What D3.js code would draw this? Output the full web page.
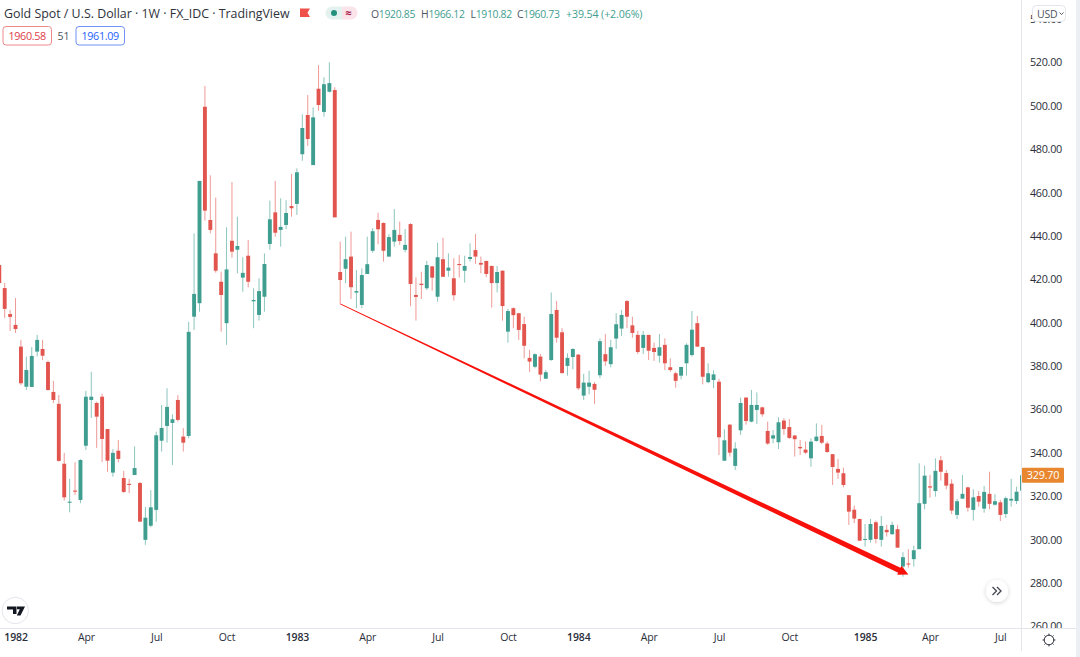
<!DOCTYPE html>
<html><head><meta charset="utf-8">
<style>
html,body{margin:0;padding:0;background:#fff;overflow:hidden}
svg{display:block}
text{font-family:"Open Sans","Noto Sans",sans-serif}
</style>
<script src="https://cdn.jsdelivr.net/npm/d3@7/dist/d3.min.js"></script>
</head><body>
<svg id="c" width="1080" height="657"></svg>
<script>
// Weekly candles, index 0 is the first whole candle on the left; the first entry is index -1.
const firstIndex = -1;
const highs=[426.6,418.3,405.9,411.4,392.1,384.4,388.8,394.4,392.1,382.5,373.2,366.7,340.0,328.0,335.7,337.1,368.6,377.4,363.6,367.2,351.0,341.7,345.9,331.7,328.0,343.0,326.6,315.1,322.8,349.8,362.1,369.8,357.8,366.6,351.4,400.4,441.2,465.4,509.2,468.0,457.7,423.5,444.0,464.9,448.9,430.2,438.2,415.9,420.5,432.0,456.3,465.4,457.4,456.5,468.6,471.2,496.1,505.0,499.3,518.8,513.2,520.1,508.6,437.4,439.7,442.0,424.3,425.1,439.7,443.6,450.7,446.3,440.8,452.4,446.6,443.2,445.9,420.9,423.5,428.5,426.2,436.9,439.2,432.0,429.7,431.2,430.9,436.6,440.9,430.5,428.6,426.3,426.2,424.2,406.4,407.1,404.4,402.8,387.5,385.9,385.6,378.2,414.0,410.0,397.5,385.9,388.2,385.6,376.4,377.9,372.6,392.8,394.8,392.1,404.4,405.9,410.5,402.8,396.3,396.2,394.4,390.8,394.8,392.8,383.6,377.4,379.7,390.5,405.4,403.1,389.0,381.3,378.1,374.1,350.9,353.3,344.9,365.5,365.6,369.0,367.9,361.3,354.4,350.6,356.4,356.0,355.6,348.3,346.0,345.2,346.7,353.6,352.9,345.2,339.5,337.2,333.2,320.6,315.7,309.7,307.2,309.5,308.8,310.9,306.8,308.3,306.8,294.2,295.6,297.2,335.2,334.1,329.8,337.5,338.6,332.1,327.8,318.8,329.8,324.4,323.2,322.4,324.8,331.3,320.9,318.3,319.8,328.0,324.4,329.8];
const bodyTops=[426.6,416.0,404.0,399.0,389.0,378.2,384.7,392.1,387.9,381.9,368.1,362.6,335.0,317.5,322.6,336.7,365.9,365.9,363.0,365.9,351.0,340.0,341.0,328.4,325.7,333.0,326.1,310.1,314.9,348.1,351.5,361.2,355.5,364.4,347.5,395.8,413.3,465.4,499.6,447.4,432.0,418.9,424.6,437.8,435.4,423.0,430.9,410.5,414.6,427.1,447.7,450.9,444.2,450.6,453.8,469.4,489.8,495.8,494.7,507.9,510.0,510.5,507.3,423.4,429.3,430.5,414.6,422.0,427.0,442.2,447.4,446.0,439.5,442.8,440.5,435.9,445.5,412.8,418.0,426.6,426.0,430.2,429.3,425.4,420.5,427.1,426.2,430.3,433.5,427.6,428.5,426.2,423.4,424.0,405.4,406.7,404.4,399.4,383.8,385.5,384.4,377.2,404.0,405.9,395.6,383.8,387.9,385.3,372.4,372.4,371.8,391.5,385.5,388.7,399.3,403.6,410.0,398.8,394.4,394.4,394.4,388.4,388.7,389.8,379.5,376.7,379.6,389.8,396.8,399.8,388.8,376.7,376.2,372.8,345.8,353.0,342.0,363.0,365.5,362.1,362.1,361.0,350.1,348.1,354.1,354.9,351.9,348.0,342.7,341.5,345.2,347.5,347.8,344.3,339.4,332.6,330.6,320.5,313.8,309.5,300.3,307.2,308.0,306.3,304.5,306.8,304.8,291.9,289.0,295.1,316.8,329.5,324.6,331.7,336.6,330.7,325.8,317.7,321.1,324.1,319.5,320.1,322.0,321.1,317.7,317.2,319.1,318.8,322.1,329.7];
const bodyBottoms=[418.3,406.4,402.7,397.1,372.1,370.5,370.4,386.7,384.8,369.0,364.4,336.3,319.5,317.0,322.1,318.3,343.3,364.4,356.7,346.4,336.4,330.9,337.2,322.0,325.2,329.8,308.3,299.9,306.4,313.7,345.6,352.4,353.8,355.2,344.7,347.8,402.8,409.0,451.7,442.8,424.0,412.8,399.8,432.8,433.7,420.8,418.9,409.9,403.6,412.0,436.3,441.5,442.8,445.1,452.8,454.8,477.7,484.7,472.7,500.4,497.2,506.5,448.6,419.7,424.9,416.4,413.9,408.2,422.5,433.2,443.1,433.2,430.5,437.4,437.7,433.6,417.9,411.9,417.4,415.9,420.8,412.0,421.2,424.0,412.7,426.6,424.0,429.4,430.5,426.8,422.5,418.3,418.3,407.7,395.9,403.5,396.7,389.4,382.1,379.7,376.1,374.2,382.8,393.1,376.8,380.1,384.2,369.8,366.4,370.5,369.1,375.8,382.2,380.9,392.7,397.3,402.8,395.3,386.5,388.4,387.1,386.5,384.8,381.3,378.2,373.2,375.6,381.3,385.1,389.0,375.1,372.6,373.6,347.2,336.4,340.1,334.0,350.4,354.7,354.4,359.8,357.8,344.3,346.6,344.9,351.0,346.9,346.3,342.1,340.1,337.5,345.5,344.7,340.4,333.5,330.9,325.2,312.9,309.7,299.5,299.9,299.9,300.3,299.9,303.4,302.5,296.3,287.6,288.5,291.0,295.6,316.5,324.0,322.4,331.3,324.9,313.4,311.4,318.9,314.7,313.7,317.5,314.3,316.5,316.1,311.4,311.8,318.0,317.8,322.6];
const lows=[416.0,402.2,396.2,395.3,371.3,369.0,370.4,384.4,382.8,368.7,363.0,336.0,318.0,312.6,320.6,316.8,341.3,356.1,342.3,335.8,331.3,329.0,335.7,321.5,321.4,329.8,308.3,297.6,305.7,308.3,340.6,344.7,334.4,354.4,340.6,346.7,396.7,405.1,447.1,441.2,423.1,395.9,389.8,430.0,422.8,414.3,416.3,397.5,401.0,405.1,433.6,439.7,435.1,443.2,448.9,449.7,474.7,481.5,472.7,497.8,495.0,506.2,448.6,408.7,418.2,411.0,406.7,406.7,422.5,432.3,436.2,428.2,430.5,435.1,435.9,432.5,407.7,401.0,411.0,415.1,414.8,409.7,421.1,421.2,410.2,420.8,418.5,428.2,427.1,422.8,421.0,407.0,414.0,401.0,390.8,397.5,392.1,383.6,377.3,379.0,373.0,374.0,382.5,390.8,376.5,375.6,378.6,369.0,364.4,367.0,362.6,374.4,380.1,379.5,387.9,393.9,397.5,393.1,385.6,385.6,382.8,382.4,381.6,378.2,377.4,370.1,373.9,375.6,384.4,389.0,371.6,372.1,369.8,339.0,336.3,338.3,332.1,348.3,353.0,354.1,353.3,356.7,343.7,344.4,341.8,348.3,346.4,338.3,339.0,339.5,333.6,345.2,344.1,340.1,325.2,328.0,324.1,306.8,307.6,299.5,296.8,298.6,298.3,296.8,301.4,302.2,296.3,282.9,287.1,287.6,295.6,314.0,319.4,319.8,327.2,323.2,311.8,309.5,318.8,312.9,308.8,315.2,312.4,314.0,315.7,308.6,310.1,315.2,316.4,322.6];
// 1 where the candle closed above its open
const rising=[0,0,0,0,0,1,1,1,0,0,0,0,0,1,0,1,1,1,0,0,0,1,0,0,0,1,0,1,1,1,1,1,1,0,0,1,1,1,0,0,0,0,1,0,1,1,0,1,1,1,1,0,1,1,0,1,1,0,1,0,1,1,0,0,1,0,1,1,1,1,0,0,1,1,0,1,0,0,0,1,0,1,0,1,0,0,1,1,0,0,0,0,1,0,1,0,0,0,0,1,0,1,1,0,0,1,1,0,1,1,0,1,0,1,1,1,0,0,0,1,0,0,1,0,0,0,1,1,1,0,0,1,1,0,1,0,1,1,0,1,1,0,0,1,1,0,0,0,0,0,1,1,0,0,0,0,0,0,0,0,1,1,0,1,0,1,0,1,0,1,1,1,0,1,0,0,0,1,1,0,1,0,1,0,1,0,1,1,1,1];
const priceTicks=[540,520,500,480,460,440,420,400,380,360,340,320,300,280,260];
const timeTickIndex=[2,15,28,41,54,67,80,93,106,119,132,145,159,171,184];
const timeTickLabels=["1982","Apr","Jul","Oct","1983","Apr","Jul","Oct","1984","Apr","Jul","Oct","1985","Apr","Jul"];
const yearLabels=["1982","1983","1984","1985"];
const lastPrice=329.70;
const arrowFrom={index:62,price:408.7};
const arrowTo={index:167,price:283.9};
const titleText="Gold Spot / U.S. Dollar · 1W · FX_IDC · TradingView";
const ohlcItems=[["O","1920.85"],["H","1966.12"],["L","1910.82"],["C","1960.73"]];
const changeText="+39.54 (+2.06%)";

const up="#3f9e90", down="#e2554e";
const svg=d3.select("#c");
const x=d3.scaleLinear().domain([0,188]).range([4.7,1022]);
const y=d3.scaleLinear().domain([280,520]).range([583,62.5]);
const defs=svg.append("defs");
defs.append("clipPath").attr("id","plot").append("rect").attr("x",0).attr("y",0).attr("width",1021.5).attr("height",628);
defs.append("clipPath").attr("id","axisClip").append("rect").attr("x",1022).attr("y",0).attr("width",54).attr("height",628);
const f=defs.append("filter").attr("id","sh").attr("x","-40%").attr("y","-40%").attr("width","180%").attr("height","180%");
f.append("feDropShadow").attr("dx",0).attr("dy",1).attr("stdDeviation",2).attr("flood-color","#000").attr("flood-opacity",.18);

const candles=highs.map((h,i)=>({i:i+firstIndex,h,t:bodyTops[i],b:bodyBottoms[i],l:lows[i],r:rising[i]}));
const plot=svg.append("g").attr("clip-path","url(#plot)");
const cg=plot.selectAll("g.c").data(candles).join("g").attr("class","c");
cg.append("line").attr("x1",d=>x(d.i)).attr("x2",d=>x(d.i)).attr("y1",d=>y(d.h)).attr("y2",d=>y(d.l))
  .attr("stroke",d=>d.r?up:down).attr("stroke-width",1).attr("stroke-opacity",.6);
cg.append("rect").attr("x",d=>x(d.i)-1.95).attr("width",3.9).attr("y",d=>y(d.t))
  .attr("height",d=>Math.max(1,y(d.b)-y(d.t))).attr("fill",d=>d.r?up:down);

// tapered arrow
const sx=x(arrowFrom.index),sy=y(arrowFrom.price),tx=x(arrowTo.index),ty=y(arrowTo.price);
const len=Math.hypot(tx-sx,ty-sy),ux=(tx-sx)/len,uy=(ty-sy)/len,nx=-uy,ny=ux;
const hb=len-10, hw=5, sw0=.4, sw1=2.7;
const pt=(a,b)=>[sx+ux*a+nx*b,sy+uy*a+ny*b];
plot.append("path").attr("d",d3.line()([pt(0,-sw0),pt(hb,-sw1),pt(hb,-hw),pt(len,0),pt(hb,hw),pt(hb,sw1),pt(0,sw0)])+"Z").attr("fill","#f8110b");

// frame
svg.append("rect").attr("x",1076).attr("y",0).attr("width",4).attr("height",657).attr("fill","#eceff4");
svg.append("line").attr("x1",1021.5).attr("x2",1021.5).attr("y1",0).attr("y2",651).attr("stroke","#e3e5ea");
svg.append("line").attr("x1",0).attr("x2",1076).attr("y1",628.5).attr("y2",628.5).attr("stroke","#e3e5ea");

// price axis
const ya=svg.append("g").attr("clip-path","url(#axisClip)").append("g").attr("transform","translate(1030,0)")
  .call(d3.axisRight(y).tickValues(priceTicks).tickSize(0).tickPadding(0).tickFormat(d=>d3.format(".2f")(d)));
ya.select(".domain").remove();
ya.selectAll("text").attr("font-size",10.8).attr("letter-spacing",-.3).attr("fill","#2a2e39").style("font-family",'"Open Sans","Noto Sans",sans-serif');
// last price tag
const ly=y(lastPrice);
svg.append("rect").attr("x",1022).attr("y",ly-7.5).attr("width",42).attr("height",15).attr("fill","#e8872f").attr("rx",1);
svg.append("text").attr("x",1043).attr("y",ly+3.8).attr("text-anchor","middle").attr("font-size",10.8).attr("letter-spacing",-.2).attr("fill","#fff").text(d3.format(".2f")(lastPrice));

// time axis
const xa=svg.append("g").attr("transform","translate(0,628)")
  .call(d3.axisBottom(x).tickValues(timeTickIndex).tickSize(0).tickPadding(6).tickFormat((d,i)=>timeTickLabels[i]));
xa.select(".domain").remove();
xa.selectAll("text").attr("font-size",10.5).attr("letter-spacing",-.15).attr("fill","#2a2e39").style("font-family",'"Open Sans","Noto Sans",sans-serif')
  .attr("font-weight",(d,i)=>yearLabels.includes(timeTickLabels[i])?600:400);

// gear
const gear=svg.append("g").attr("transform","translate(1049,640)").attr("fill","none").attr("stroke","#2a2e39").attr("stroke-width",1);
gear.append("circle").attr("r",4.8);
d3.range(8).forEach(k=>{const a=k*Math.PI/4;gear.append("line").attr("x1",4.8*Math.cos(a)).attr("y1",4.8*Math.sin(a)).attr("x2",6.4*Math.cos(a)).attr("y2",6.4*Math.sin(a));});

// USD button
svg.append("rect").attr("x",1032.5).attr("y",5.5).attr("width",33).attr("height",16).attr("rx",4).attr("fill","#fff").attr("stroke","#e3e5ea");
svg.append("text").attr("x",1037).attr("y",17.5).attr("font-size",10.5).attr("letter-spacing",-.2).attr("fill","#50535e").text("USD");
svg.append("path").attr("d","M1059.5 12.5l2 2 2-2").attr("fill","none").attr("stroke","#50535e");

// legend
svg.append("text").attr("x",4).attr("y",18).attr("font-size",12.4).attr("fill","#2e323c").text(titleText);
svg.append("path").attr("d","M300 8.5h10l-2.5 4.2 2.5 4.2h-10z").attr("fill","#f0504a");
svg.append("path").attr("d","M332 6.5h10v13h-10a6.5 6.5 0 0 1 0-13z").attr("fill","#e4f2ef");
svg.append("path").attr("d","M342 6.5h9a6.5 6.5 0 0 1 0 13h-9z").attr("fill","#fae3e9");
svg.append("circle").attr("cx",334).attr("cy",13).attr("r",3).attr("fill","#26907f");
svg.append("text").attr("x",348.5).attr("y",17).attr("text-anchor","middle").attr("font-size",11).attr("fill","#a81b4a").attr("font-weight",700).text("≈");
const ohlcX=[371,421,470.5,517];
ohlcItems.forEach(([k,v],i)=>{
  const t=svg.append("text").attr("x",ohlcX[i]).attr("y",18).attr("font-size",10.4).attr("letter-spacing",-.3);
  t.append("tspan").attr("fill","#50535e").text(k);
  t.append("tspan").attr("fill",up).text(v);
});
svg.append("text").attr("x",566).attr("y",18).attr("font-size",10.6).attr("letter-spacing",-.1).attr("fill",up).text(changeText);

// bid / ask boxes
svg.append("rect").attr("x",3).attr("y",26.5).attr("width",48.5).attr("height",18.5).attr("rx",3).attr("fill","#fff").attr("stroke","#ef8a8a");
svg.append("text").attr("x",27.2).attr("y",40).attr("text-anchor","middle").attr("font-size",10.8).attr("letter-spacing",-.35).attr("fill","#e0404a").text("1960.58");
svg.append("text").attr("x",63.5).attr("y",40).attr("text-anchor","middle").attr("font-size",10.5).attr("fill","#50535e").text("51");
svg.append("rect").attr("x",76).attr("y",26.5).attr("width",48.5).attr("height",18.5).attr("rx",3).attr("fill","#fff").attr("stroke","#6e92f5");
svg.append("text").attr("x",100.2).attr("y",40).attr("text-anchor","middle").attr("font-size",10.8).attr("letter-spacing",-.35).attr("fill","#2962ff").text("1961.09");

// logo
const logo=svg.append("g");
logo.append("circle").attr("cx",15.3).attr("cy",610.5).attr("r",13.2).attr("fill","#fff").attr("stroke","#e3e5ea");
logo.append("path").attr("d","M7 606.5h9.5v7.5h-3.5v-4.5h-6zM17 606.5h8l-4.5 9h-3.7l3-6.2h-2.8z").attr("fill","#131722");

// scroll button
const sb=svg.append("g").attr("transform","translate(997,591)");
sb.append("circle").attr("r",11).attr("fill","#fff").attr("filter","url(#sh)");
sb.append("path").attr("d","M-4.5 -4l4 4-4 4M0 -4l4 4-4 4").attr("fill","none").attr("stroke","#434651").attr("stroke-width",1.3);
</script>
</body></html>
